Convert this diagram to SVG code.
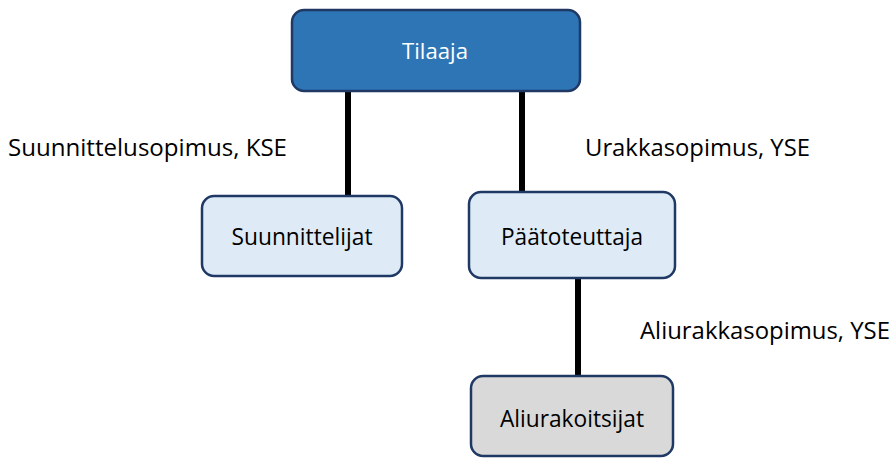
<svg xmlns="http://www.w3.org/2000/svg" width="893" height="460" viewBox="0 0 893 460">
<style>
.box{stroke:#1f3864;stroke-width:2.5}
.t{font-family:"Open Sans","Noto Sans","DejaVu Sans",sans-serif;font-size:23px;fill:#000}
.c{text-anchor:middle}
.ln{stroke:#000;stroke-width:6}
</style>
<rect width="893" height="460" fill="#fff"/>
<g id="connectors">
<line class="ln" x1="348" y1="91" x2="348" y2="196"/>
<line class="ln" x1="522" y1="91" x2="522" y2="192"/>
<line class="ln" x1="578" y1="278" x2="578" y2="376"/>
</g>
<g id="labels">
<text class="t" x="8" y="156" textLength="279" lengthAdjust="spacingAndGlyphs">Suunnittelusopimus, KSE</text>
<text class="t" x="585" y="156" textLength="225" lengthAdjust="spacingAndGlyphs">Urakkasopimus, YSE</text>
<text class="t" x="640" y="339" textLength="250" lengthAdjust="spacingAndGlyphs">Aliurakkasopimus, YSE</text>
</g>
<g id="tilaaja">
<rect class="box" x="292" y="10" width="288" height="81" rx="12" fill="#2e75b6"/>
<text class="t c" x="435" y="59" style="fill:#fff;font-size:22px" textLength="66" lengthAdjust="spacingAndGlyphs">Tilaaja</text>
</g>
<g id="suunnittelijat">
<rect class="box" x="202" y="196" width="200" height="80" rx="12" fill="#deebf7"/>
<text class="t c" x="302" y="245" textLength="141" lengthAdjust="spacingAndGlyphs">Suunnittelijat</text>
</g>
<g id="paatoteuttaja">
<rect class="box" x="469" y="192" width="206" height="86" rx="12" fill="#deebf7"/>
<text class="t c" x="572" y="245" textLength="142" lengthAdjust="spacingAndGlyphs">Päätoteuttaja</text>
</g>
<g id="aliurakoitsijat">
<rect class="box" x="471" y="376" width="202" height="80" rx="12" fill="#d9d9d9"/>
<text class="t c" x="572" y="427" textLength="144" lengthAdjust="spacingAndGlyphs">Aliurakoitsijat</text>
</g>
</svg>
